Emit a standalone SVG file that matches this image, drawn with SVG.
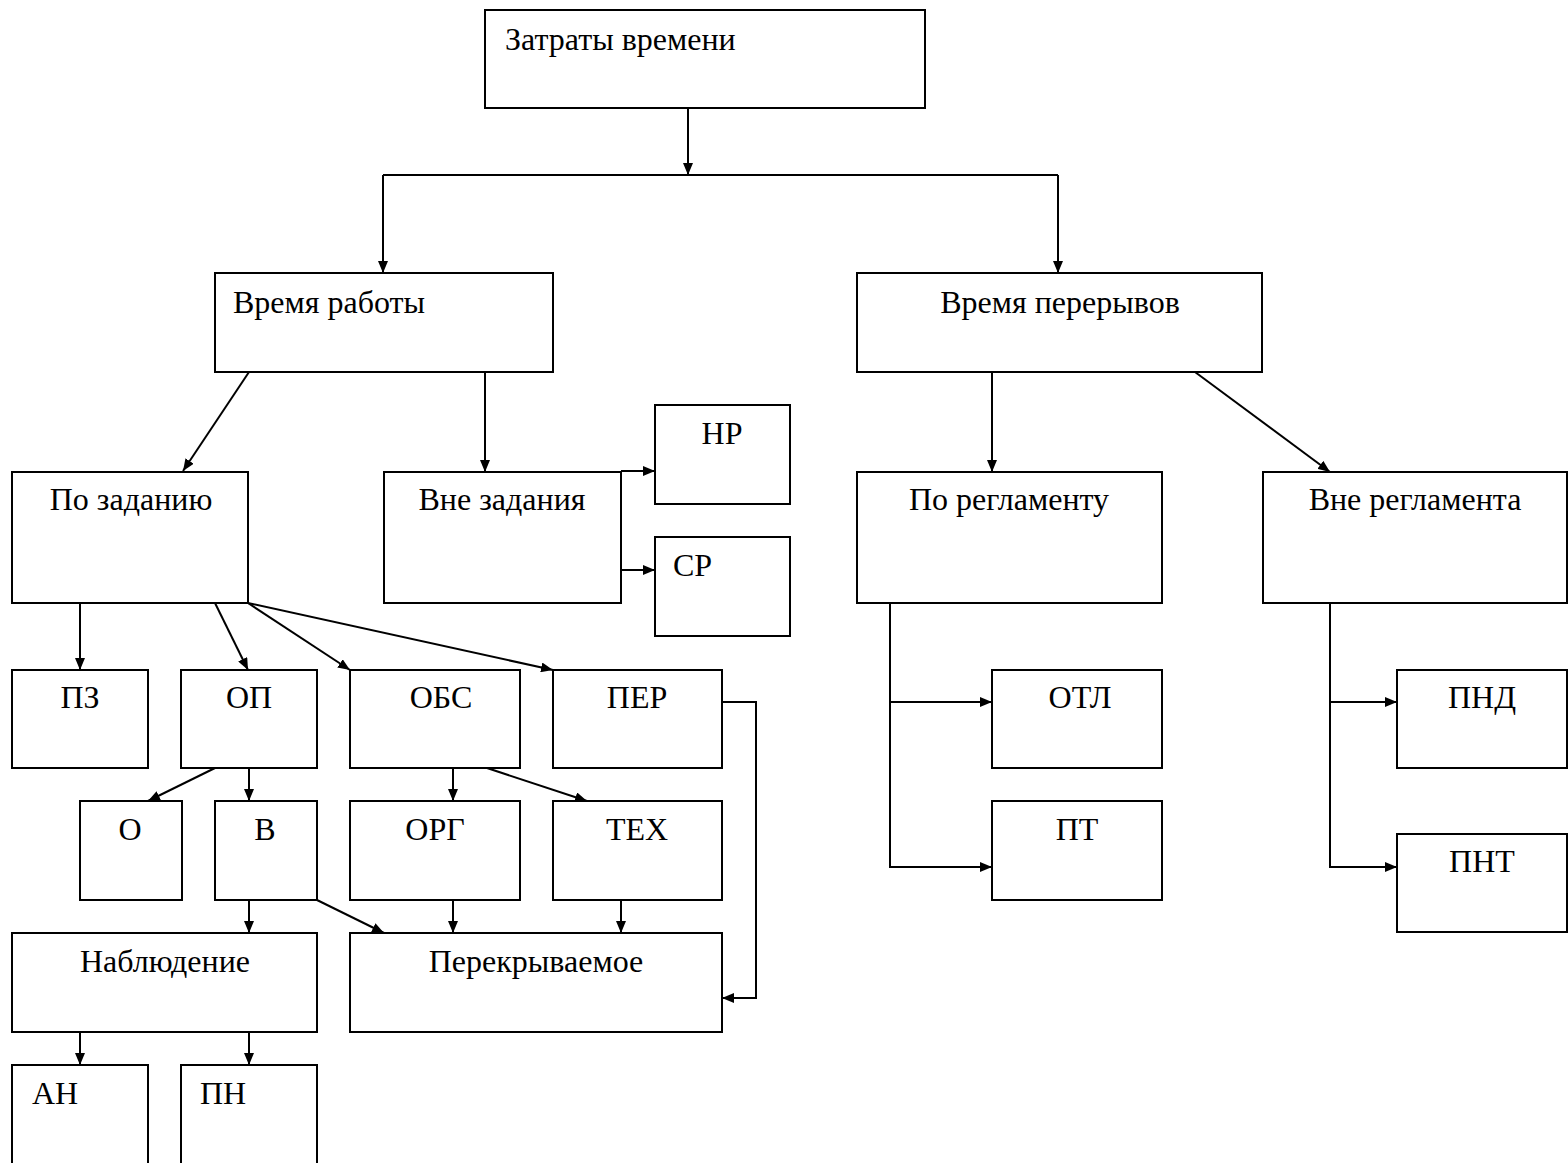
<svg xmlns="http://www.w3.org/2000/svg" width="1568" height="1163" viewBox="0 0 1568 1163">
<style>
rect.b{fill:#fff;stroke:#000;stroke-width:2}
text{font-family:"Liberation Serif","Times New Roman","DejaVu Serif",serif;font-size:32px;fill:#000}
.c{text-anchor:middle}
#connectors line,#connectors polyline{stroke:#000;stroke-width:2;fill:none}
</style>
<defs>
<marker id="ah" viewBox="0 0 12 10" refX="12" refY="5" markerWidth="12" markerHeight="10" markerUnits="userSpaceOnUse" orient="auto"><path d="M0,0 L12,5 L0,10 z" fill="#000"/></marker>
</defs>
<rect width="1568" height="1163" fill="#fff"/>
<g id="connectors">
<line x1="688" y1="108" x2="688" y2="175" marker-end="url(#ah)"/>
<line x1="383" y1="175" x2="1058" y2="175"/>
<line x1="383" y1="175" x2="383" y2="273" marker-end="url(#ah)"/>
<line x1="1058" y1="175" x2="1058" y2="273" marker-end="url(#ah)"/>
<line x1="249" y1="372" x2="183" y2="471" marker-end="url(#ah)"/>
<line x1="485" y1="372" x2="485" y2="472" marker-end="url(#ah)"/>
<line x1="621" y1="471" x2="655" y2="471" marker-end="url(#ah)"/>
<line x1="621" y1="570" x2="655" y2="570" marker-end="url(#ah)"/>
<line x1="992" y1="372" x2="992" y2="472" marker-end="url(#ah)"/>
<line x1="1195" y1="372" x2="1330" y2="472" marker-end="url(#ah)"/>
<line x1="80" y1="603" x2="80" y2="670" marker-end="url(#ah)"/>
<line x1="215" y1="603" x2="248" y2="670" marker-end="url(#ah)"/>
<line x1="248" y1="603" x2="350" y2="670" marker-end="url(#ah)"/>
<line x1="248" y1="603" x2="553" y2="670" marker-end="url(#ah)"/>
<polyline points="722,702 756,702 756,998 722,998" marker-end="url(#ah)"/>
<line x1="215" y1="768" x2="148" y2="801" marker-end="url(#ah)"/>
<line x1="249" y1="768" x2="249" y2="801" marker-end="url(#ah)"/>
<line x1="453" y1="768" x2="453" y2="801" marker-end="url(#ah)"/>
<line x1="487" y1="768" x2="587" y2="801" marker-end="url(#ah)"/>
<line x1="249" y1="900" x2="249" y2="933" marker-end="url(#ah)"/>
<line x1="317" y1="900" x2="384" y2="933" marker-end="url(#ah)"/>
<line x1="453" y1="900" x2="453" y2="933" marker-end="url(#ah)"/>
<line x1="621" y1="900" x2="621" y2="933" marker-end="url(#ah)"/>
<line x1="80" y1="1032" x2="80" y2="1065" marker-end="url(#ah)"/>
<line x1="249" y1="1032" x2="249" y2="1065" marker-end="url(#ah)"/>
<polyline points="890,603 890,867 992,867" marker-end="url(#ah)"/>
<line x1="890" y1="702" x2="992" y2="702" marker-end="url(#ah)"/>
<polyline points="1330,603 1330,867 1397,867" marker-end="url(#ah)"/>
<line x1="1330" y1="702" x2="1397" y2="702" marker-end="url(#ah)"/>
</g>
<g id="n-zatraty"><rect class="b" x="485" y="10" width="440" height="98"/><text x="505" y="50">Затраты времени</text></g>
<g id="n-rabota"><rect class="b" x="215" y="273" width="338" height="99"/><text x="233" y="313">Время работы</text></g>
<g id="n-pereryvy"><rect class="b" x="857" y="273" width="405" height="99"/><text class="c" x="1060" y="313">Время перерывов</text></g>
<g id="n-pozad"><rect class="b" x="12" y="472" width="236" height="131"/><text class="c" x="131" y="510">По заданию</text></g>
<g id="n-vnezad"><rect class="b" x="384" y="472" width="237" height="131"/><text class="c" x="502" y="510">Вне задания</text></g>
<g id="n-nr"><rect class="b" x="655" y="405" width="135" height="99"/><text class="c" x="722" y="444">НР</text></g>
<g id="n-sr"><rect class="b" x="655" y="537" width="135" height="99"/><text x="673" y="576">СР</text></g>
<g id="n-poregl"><rect class="b" x="857" y="472" width="305" height="131"/><text class="c" x="1009" y="510">По регламенту</text></g>
<g id="n-vneregl"><rect class="b" x="1263" y="472" width="304" height="131"/><text class="c" x="1415" y="510">Вне регламента</text></g>
<g id="n-pz"><rect class="b" x="12" y="670" width="136" height="98"/><text class="c" x="80" y="708">ПЗ</text></g>
<g id="n-op"><rect class="b" x="181" y="670" width="136" height="98"/><text class="c" x="249" y="708">ОП</text></g>
<g id="n-obs"><rect class="b" x="350" y="670" width="170" height="98"/><text class="c" x="441" y="708">ОБС</text></g>
<g id="n-per"><rect class="b" x="553" y="670" width="169" height="98"/><text class="c" x="637" y="708">ПЕР</text></g>
<g id="n-otl"><rect class="b" x="992" y="670" width="170" height="98"/><text class="c" x="1080" y="708">ОТЛ</text></g>
<g id="n-pnd"><rect class="b" x="1397" y="670" width="170" height="98"/><text class="c" x="1482" y="708">ПНД</text></g>
<g id="n-o"><rect class="b" x="80" y="801" width="102" height="99"/><text class="c" x="130" y="840">О</text></g>
<g id="n-v"><rect class="b" x="215" y="801" width="102" height="99"/><text class="c" x="265" y="840">В</text></g>
<g id="n-org"><rect class="b" x="350" y="801" width="170" height="99"/><text class="c" x="435" y="840">ОРГ</text></g>
<g id="n-tex"><rect class="b" x="553" y="801" width="169" height="99"/><text class="c" x="637" y="840">ТЕХ</text></g>
<g id="n-pt"><rect class="b" x="992" y="801" width="170" height="99"/><text class="c" x="1077" y="840">ПТ</text></g>
<g id="n-pnt"><rect class="b" x="1397" y="834" width="170" height="98"/><text class="c" x="1482" y="872">ПНТ</text></g>
<g id="n-nabl"><rect class="b" x="12" y="933" width="305" height="99"/><text class="c" x="165" y="972">Наблюдение</text></g>
<g id="n-perekr"><rect class="b" x="350" y="933" width="372" height="99"/><text class="c" x="536" y="972">Перекрываемое</text></g>
<g id="n-an"><rect class="b" x="12" y="1065" width="136" height="110"/><text x="32" y="1104">АН</text></g>
<g id="n-pn"><rect class="b" x="181" y="1065" width="136" height="110"/><text x="200" y="1104">ПН</text></g>
</svg>
